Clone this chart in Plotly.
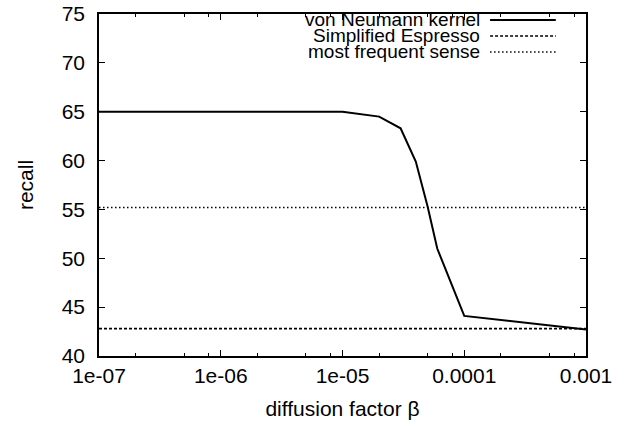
"""Recall vs diffusion factor (gnuplot style)"""
import plotly.graph_objects as go

# von Neumann kernel curve
beta = [1e-7, 1e-6, 1e-5, 2e-5, 3e-5, 4e-5, 5e-5, 6e-5, 8e-5, 1e-4, 1e-3]
recall = [65.0, 65.0, 65.0, 64.5, 63.3, 59.9, 55.3, 51.0, 47.0, 44.1, 42.7]

# baselines (constant over beta)
espresso_recall = 42.8
mfs_recall = 55.2
x_range = [1e-7, 1e-3]

x_tickvals = [1e-7, 1e-6, 1e-5, 1e-4, 1e-3]
x_ticktext = ["1e-07", "1e-06", "1e-05", "0.0001", "0.001"]
x_minorvals = [m * 10 ** e for e in range(-7, -3) for m in (2, 5, 8)]
y_tickvals = [40, 45, 50, 55, 60, 65, 70, 75]

series_names = ["von Neumann kernel", "Simplified Espresso", "most frequent sense"]
FONT = "Liberation Sans, Arial, Helvetica, sans-serif"
FSIZE = 21


def main():
    fig = go.Figure()

    fig.add_trace(go.Scatter(
        x=beta, y=recall, mode="lines", name=series_names[0],
        line=dict(color="black", width=2),
    ))
    fig.add_trace(go.Scatter(
        x=x_range, y=[espresso_recall] * 2, mode="lines", name=series_names[1],
        line=dict(color="black", width=1.6, dash="3px,2px"),
    ))
    fig.add_trace(go.Scatter(
        x=x_range, y=[mfs_recall] * 2, mode="lines", name=series_names[2],
        line=dict(color="black", width=1.6, dash="1.5px,2.5px"),
    ))

    # gnuplot-like key: text right-aligned, sample line to the right
    dashes = ["solid", "3px,2px", "1.5px,2.5px"]
    widths = [2, 1.6, 1.6]
    for i, name in enumerate(series_names):
        yk = 0.9825 - i * 0.0468
        fig.add_annotation(
            x=0.787, y=yk, xref="paper", yref="paper", text=name,
            showarrow=False, xanchor="right", yanchor="middle",
            font=dict(size=19, color="black", family=FONT),
        )
        fig.add_shape(
            type="line", xref="paper", yref="paper",
            x0=0.803, x1=0.938, y0=yk, y1=yk,
            line=dict(color="black", width=widths[i], dash=dashes[i]),
        )

    axis_common = dict(
        showline=True, linecolor="black", linewidth=1.5, mirror="allticks",
        ticks="inside", tickcolor="black", showgrid=False, zeroline=False,
        automargin=False,
        tickfont=dict(size=FSIZE, color="black", family=FONT),
    )
    fig.update_xaxes(
        type="log", range=[-7, -3], tickmode="array",
        tickvals=x_tickvals, ticktext=x_ticktext, ticklen=6, tickwidth=1,
        minor=dict(tickmode="array", tickvals=x_minorvals, ticks="inside",
                   ticklen=3, tickcolor="black", tickwidth=1, showgrid=False),
        title=dict(text="diffusion factor β", standoff=15,
                   font=dict(size=FSIZE, color="black", family=FONT)),
        **axis_common,
    )
    fig.update_yaxes(
        range=[40, 75], tickmode="array", tickvals=y_tickvals,
        ticklen=6, tickwidth=1, ticklabelstandoff=8,
        title=dict(text="recall", standoff=22,
                   font=dict(size=FSIZE, color="black", family=FONT)),
        **axis_common,
    )
    fig.update_layout(
        width=624, height=426,
        margin=dict(l=99, r=38, t=14, b=70),
        plot_bgcolor="white", paper_bgcolor="white",
        showlegend=False,
        font=dict(family=FONT, color="black"),
    )
    fig.write_html("out.html", config={"displayModeBar": False},
                   post_script="document.body.style.margin='0';")


if __name__ == "__main__":
    main()
